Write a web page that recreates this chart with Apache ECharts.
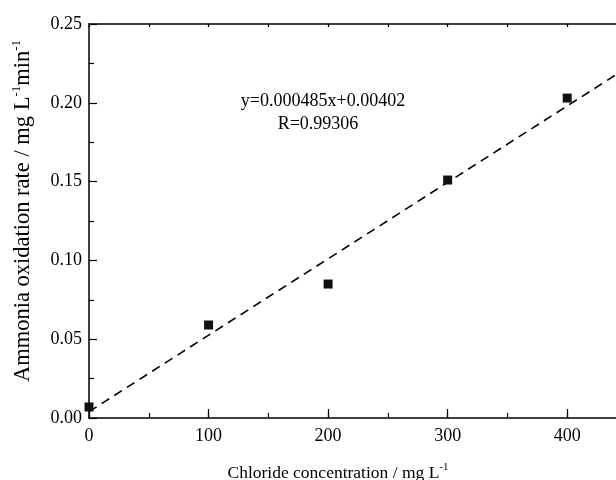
<!DOCTYPE html>
<html><head><meta charset="utf-8">
<script src="https://cdn.jsdelivr.net/npm/echarts@6/dist/echarts.min.js"></script>
<style>html,body{margin:0;padding:0;background:#fff}#c{width:616px;height:480px}</style>
</head><body><div id="c"></div>
<script>
const chlorideValues = [0, 100, 200, 300, 400];
const rateValues = [0.007, 0.059, 0.085, 0.151, 0.203];
const fitX = [0, 450];
const fitY = [0.00402, 0.22227];
const equationText = 'y=0.000485x+0.00402';
const rText = 'R=0.99306';
const xTitle = 'Chloride concentration / mg L';
const yTitleA = 'Ammonia oxidation rate / mg L';
const yTitleB = 'min';

const F = 'Liberation Serif';
const black = '#000';
const grid = {left: 89, top: 24, bottom: 62, right: -11, containLabel: false, outerBoundsMode: 'none'};
const chart = echarts.init(document.getElementById('c'), null, {renderer: 'canvas'});
const option = {
  animation: false,
  backgroundColor: '#fff',
  grid: [Object.assign({}, grid), Object.assign({}, grid)],
  xAxis: [
    {gridIndex: 0, type: 'value', position: 'bottom', min: 0, max: 450, interval: 50,
     axisLine: {lineStyle: {color: black, width: 1.5}},
     axisTick: {inside: true, length: 5, lineStyle: {color: black, width: 1.2}},
     axisLabel: {show: false}, splitLine: {show: false}},
    {gridIndex: 0, type: 'value', position: 'top', min: 0, max: 450, interval: 50,
     axisLine: {lineStyle: {color: black, width: 1.5}},
     axisTick: {inside: true, length: 3, lineStyle: {color: black, width: 1.2}},
     axisLabel: {show: false}, splitLine: {show: false}},
    {gridIndex: 1, type: 'value', position: 'bottom', min: 0, max: 450, interval: 100,
     axisLine: {show: false},
     axisTick: {inside: true, length: 9, lineStyle: {color: black, width: 1.2}},
     axisLabel: {show: true, showMaxLabel: false, margin: 9, color: black, fontFamily: F, fontSize: 18},
     splitLine: {show: false},
     name: '{a|' + xTitle + '}{s|-1}', nameLocation: 'middle', nameGap: 44,
     nameTextStyle: {color: black, fontFamily: F, fontSize: 17.5, padding: [0, 40, 0, 0],
       rich: {a: {fontFamily: F, fontSize: 17.5, color: black},
              s: {fontFamily: F, fontSize: 11, color: black, padding: [0, 0, 12, 0]}}}}
  ],
  yAxis: [
    {gridIndex: 0, type: 'value', min: 0, max: 0.25, interval: 0.05,
     axisLine: {lineStyle: {color: black, width: 1.5}},
     axisTick: {inside: true, length: 8, lineStyle: {color: black, width: 1.2}},
     minorTick: {show: true, splitNumber: 2, length: 5, lineStyle: {color: black, width: 1.2}},
     axisLabel: {margin: 7, color: black, fontFamily: F, fontSize: 18, formatter: v => v.toFixed(2)},
     splitLine: {show: false}, minorSplitLine: {show: false},
     name: '{a|' + yTitleA + '}{s|-1}{a|' + yTitleB + '}{s|-1}', nameLocation: 'middle', nameGap: 52, nameRotate: 90,
     nameTextStyle: {color: black, fontFamily: F, fontSize: 22.5, padding: [0, 0, 0, 20],
       rich: {a: {fontFamily: F, fontSize: 22.5, color: black},
              s: {fontFamily: F, fontSize: 13, color: black, padding: [0, 0, 14, 0]}}}},
    {gridIndex: 1, type: 'value', min: 0, max: 0.25, show: false}
  ],
  series: [
    {type: 'line', xAxisIndex: 0, yAxisIndex: 0, data: fitX.map((x, i) => [x, fitY[i]]),
     showSymbol: false, symbol: 'none', lineStyle: {color: black, width: 1.6, type: [9, 6]}, silent: true, z: 2},
    {type: 'scatter', xAxisIndex: 0, yAxisIndex: 0, data: chlorideValues.map((x, i) => [x, rateValues[i]]),
     symbol: 'rect', symbolSize: 9, itemStyle: {color: '#111', opacity: 1}, z: 3}
  ],
  graphic: [
    {type: 'text', x: 323, y: 101, style: {text: equationText, font: '18px "Liberation Serif"', fill: black, align: 'center', verticalAlign: 'middle'}},
    {type: 'text', x: 318, y: 124, style: {text: rText, font: '18px "Liberation Serif"', fill: black, align: 'center', verticalAlign: 'middle'}}
  ]
};
chart.setOption(option);
</script></body></html>
